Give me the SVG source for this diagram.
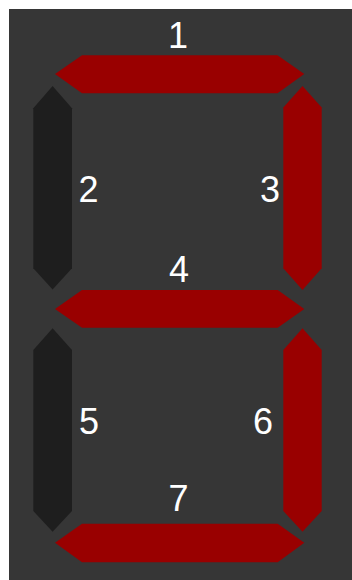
<svg xmlns="http://www.w3.org/2000/svg" width="352" height="580" viewBox="0 0 352 580">
<style>
.on{fill:#990000}
.off{fill:#1e1e1e}
text{font-family:"Liberation Sans",Arial,sans-serif;font-size:36px;fill:#ffffff;text-anchor:middle}
</style>
<rect x="0" y="0" width="352" height="580" fill="#ffffff"/>
<rect x="9" y="9" width="343" height="571" fill="#363636"/>
<g id="seg1"><polygon class="on" points="55,74 82,55.3 277.5,55.3 304.3,74 277.5,93.3 82,93.3"/><text x="178" y="48">1</text></g>
<g id="seg2"><polygon class="off" points="52.6,86 72,108.3 72,268.3 52.6,289.5 33.3,268.3 33.3,108.3"/><text x="88.5" y="201.5">2</text></g>
<g id="seg3"><polygon class="on" points="302.5,86 321.7,107.5 321.7,268.3 302.5,290 283.3,268.3 283.3,107.5"/><text x="270" y="201.5">3</text></g>
<g id="seg4"><polygon class="on" points="55,309 82,290 277.7,290 304.3,309 277.7,327.7 82,327.7"/><text x="179" y="282.3">4</text></g>
<g id="seg5"><polygon class="off" points="52.6,328.3 72,350 72,511 52.6,531.7 33.3,511 33.3,350"/><text x="89" y="433.5">5</text></g>
<g id="seg6"><polygon class="on" points="302.5,328.3 321.7,350 321.7,511 302.5,531.7 283.3,511 283.3,350"/><text x="263" y="433.5">6</text></g>
<g id="seg7"><polygon class="on" points="55,542.7 82,523.7 277.7,523.7 304.3,542.7 277.7,562.3 82,562.3"/><text x="178.5" y="511">7</text></g>
<g id="connectors"/>
</svg>
